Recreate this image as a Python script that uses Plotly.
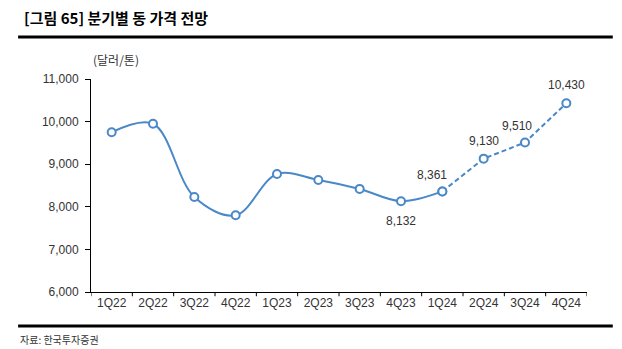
import plotly.graph_objects as go

categories = ["1Q22", "2Q22", "3Q22", "4Q22", "1Q23", "2Q23", "3Q23", "4Q23",
              "1Q24", "2Q24", "3Q24", "4Q24"]
actual_values = [9750, 9950, 8230, 7800, 8770, 8630, 8420, 8132, 8361]
forecast_values = [8361, 9130, 9510, 10430]
y_ticks = [6000, 7000, 8000, 9000, 10000, 11000]

color = "#4a88c8"
font_num = "Liberation Sans, Arial, sans-serif"
font_kr = "Noto Sans CJK KR, sans-serif"

x_idx = list(range(len(categories)))
act_x = x_idx[:len(actual_values)]
fc_x = x_idx[len(actual_values) - 1:]

fig = go.Figure()
fig.add_trace(go.Scatter(
    x=act_x, y=actual_values, mode="lines+markers",
    line=dict(color=color, width=2, shape="spline", smoothing=1.0),
    marker=dict(symbol="circle", size=8, color="white", line=dict(color=color, width=2)),
    showlegend=False, hoverinfo="skip"))
fig.add_trace(go.Scatter(
    x=fc_x, y=forecast_values, mode="lines+markers",
    line=dict(color=color, width=2, dash="5px,3px"),
    marker=dict(symbol="circle", size=8, color="white", line=dict(color=color, width=2)),
    showlegend=False, hoverinfo="skip"))

# data labels (yshift positive = up)
labels = [(7, 8132, 0, -20), (8, 8361, -10, 16), (9, 9130, 0, 18), (10, 9510, -8, 16), (11, 10430, 0, 18)]
for xi, v, dx, dy in labels:
    fig.add_annotation(x=xi, y=v, text=f"{v:,}", showarrow=False, xshift=dx, yshift=dy,
                       font=dict(family=font_num, size=12, color="#333333"))

fig.update_layout(
    width=622, height=349, margin=dict(l=91, r=35, t=79, b=57),
    plot_bgcolor="white", paper_bgcolor="white",
    xaxis=dict(range=[-0.5, len(categories) - 0.5], tickmode="array",
               tickvals=x_idx, ticktext=categories, showgrid=False,
               showline=True, linecolor="black", linewidth=1, zeroline=False,
               ticks="", tickfont=dict(family=font_num, size=12, color="#333333"),
               fixedrange=True),
    yaxis=dict(range=[6000, 11000], tickmode="array", tickvals=y_ticks,
               ticktext=[f"{t:,}" for t in y_ticks], showgrid=False,
               showline=True, linecolor="black", linewidth=1, zeroline=False,
               ticks="outside", ticklen=5, tickcolor="black",
               tickfont=dict(family=font_num, size=12, color="#333333"), ticklabelstandoff=4),
)

# x-axis boundary tick marks
shapes = []
for i in range(len(categories) + 1):
    shapes.append(dict(type="line", xref="x", yref="paper", x0=i - 0.5, x1=i - 0.5,
                       y0=0, y1=-0.02, line=dict(color="black", width=1)))
# header and footer rules
shapes.append(dict(type="line", xref="paper", yref="paper", x0=-0.147, x1=1.052,
                   y0=1.197, y1=1.197, line=dict(color="black", width=3)))
shapes.append(dict(type="line", xref="paper", yref="paper", x0=-0.147, x1=1.052,
                   y0=-0.16, y1=-0.16, line=dict(color="black", width=3)))
fig.update_layout(shapes=shapes)

fig.add_annotation(xref="paper", yref="paper", x=-0.139, y=1.291, xanchor="left", yanchor="middle",
                   text="<b>[그림 65] 분기별 동 가격 전망</b>", showarrow=False,
                   font=dict(family=font_kr, size=15, color="black"))
fig.add_annotation(xref="paper", yref="paper", x=0.0, y=1.09, xanchor="left", yanchor="middle",
                   text="(달러/톤)", showarrow=False,
                   font=dict(family=font_kr, size=12, color="#333333"))
fig.add_annotation(xref="paper", yref="paper", x=-0.147, y=-0.225, xanchor="left", yanchor="middle",
                   text="자료: 한국투자증권", showarrow=False,
                   font=dict(family=font_kr, size=10, color="#333333"))

fig.write_html("out.html")
